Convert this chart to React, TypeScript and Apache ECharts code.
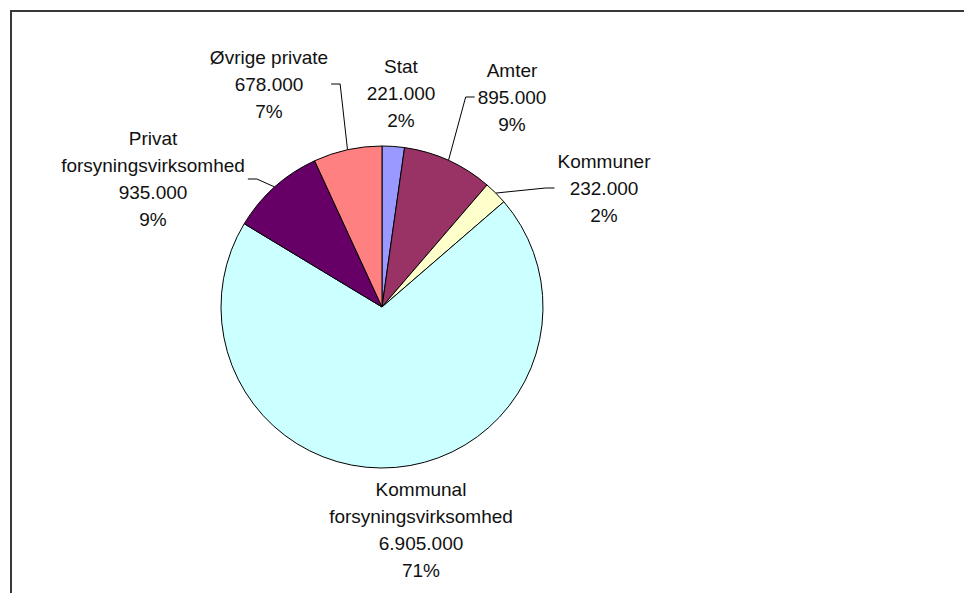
import React, { useEffect, useRef } from "react";
import * as echarts from "echarts";

const categories = [
  "Stat",
  "Amter",
  "Kommuner",
  "Kommunal forsyningsvirksomhed",
  "Privat forsyningsvirksomhed",
  "Øvrige private",
];
const values = [221000, 895000, 232000, 6905000, 935000, 678000];
const percentLabels = ["2%", "9%", "2%", "71%", "9%", "7%"];
const colors = ["#9999FF", "#993366", "#FFFFCC", "#CCFFFF", "#660066", "#FF8080"];
const showLeader = [false, true, true, false, true, true];

function fmt(v: number): string {
  return String(v).replace(/\B(?=(\d{3})+(?!\d))/g, ".");
}

// label block centres in pixels
const labelCenters: [number, number][] = [
  [401, 93],
  [512, 97],
  [604, 188],
  [421, 530],
  [153, 179],
  [269, 84],
];

export default function App() {
  const ref = useRef<HTMLDivElement>(null);
  useEffect(() => {
    if (!ref.current) return;
    const chart = echarts.init(ref.current, null, { renderer: "svg" });
    chart.setOption({
      animation: false,
      backgroundColor: "#ffffff",
      graphic: [
        {
          type: "rect",
          shape: { x: 11, y: 11, width: 1000, height: 700 },
          style: { fill: "none", stroke: "#383838", lineWidth: 2 },
          silent: true,
        },
      ],
      series: [
        {
          type: "pie",
          center: [382, 307],
          radius: 161,
          startAngle: 90,
          clockwise: true,
          avoidLabelOverlap: false,
          itemStyle: { borderColor: "#000", borderWidth: 1 },
          emphasis: { disabled: true },
          label: {
            show: true,
            position: "outside",
            color: "#111",
            fontFamily: "Liberation Sans, Arial, sans-serif",
            fontSize: 19,
            lineHeight: 27,
            align: "center",
            formatter: (p: any) =>
              `${String(p.name).replace(" forsynings", "\nforsynings")}\n${fmt(p.value)}\n${percentLabels[p.dataIndex]}`,
          },
          labelLine: {
            show: true,
            length: 10,
            length2: 10,
            lineStyle: { color: "#000", width: 1 },
          },
          labelLayout: (params: any) => {
            const c = labelCenters[params.dataIndex];
            const out: any = { x: c[0], y: c[1], align: "center", verticalAlign: "middle" };
            const pts = params.labelLinePoints;
            if (pts && pts.length && showLeader[params.dataIndex]) {
              const start = pts[0];
              const halfW = params.labelRect.width / 2;
              const toRight = c[0] > start[0];
              const endX = toRight ? c[0] - halfW - 3 : c[0] + halfW + 3;
              const bendX = toRight ? endX - 9 : endX + 9;
              out.labelLinePoints = [
                [start[0], start[1]],
                [bendX, c[1]],
                [endX, c[1]],
              ];
            }
            return out;
          },
          data: categories.map((name, i) => ({
            name,
            value: values[i],
            itemStyle: { color: colors[i] },
            labelLine: { show: showLeader[i] },
          })),
        },
      ],
    });
    return () => chart.dispose();
  }, []);
  return (
    <div
      ref={ref}
      style={{ position: "absolute", left: 0, top: 0, width: 964, height: 593 }}
    />
  );
}
